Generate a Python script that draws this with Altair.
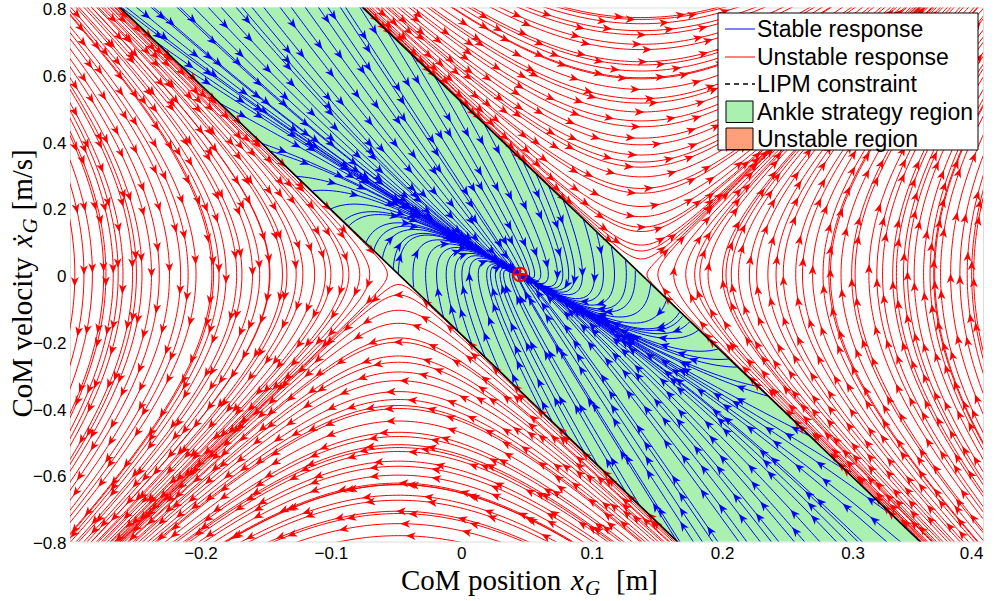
import math
import numpy as np
import pandas as pd
import altair as alt

# ---------------- values ----------------
X_DOMAIN = [-0.3, 0.4]
V_DOMAIN = [-0.8, 0.8]
X_TICKS = [-0.2, -0.1, 0.0, 0.1, 0.2, 0.3, 0.4]
V_TICKS = [-0.8, -0.6, -0.4, -0.2, 0.0, 0.2, 0.4, 0.6, 0.8]

OMEGA = 3.745      # LIPM natural frequency sqrt(g/z)  (slope of the constraint lines)
COP_MIN = -0.048   # left LIPM constraint crosses xdot = 0 here
COP_MAX = 0.138    # right LIPM constraint crosses xdot = 0 here
X_EQ = 0.045       # equilibrium (red marker)
K_POS = 13.8       # ankle feedback gains (stable region)
K_VEL = 8.3

# seed grid for the stream slice
SEED_X = [round(-0.297 + 0.01 * i, 4) for i in range(70)]
SEED_V = [round(-0.79 + 0.04 * j, 3) for j in range(40)]

GREEN = "#A9F0B1"
SALMON = "#FFA07A"

# ---------------- plot geometry ----------------
W, H = 913, 534
SX = W / (X_DOMAIN[1] - X_DOMAIN[0])
SV = H / (V_DOMAIN[1] - V_DOMAIN[0])
STEP = 2.0
CELL = 9.5
NX, NY = int(W / CELL) + 1, int(H / CELL) + 1


def region(x, v):
    xi = x + v / OMEGA
    if xi < COP_MIN:
        return 0
    if xi > COP_MAX:
        return 2
    return 1


def accel(x, v, r):
    if r == 0:
        return OMEGA ** 2 * (x - COP_MIN)
    if r == 2:
        return OMEGA ** 2 * (x - COP_MAX)
    return -K_POS * (x - X_EQ) - K_VEL * v


def pdir(x, v, r):
    dx = v * SX
    dy = accel(x, v, r) * SV
    n = math.hypot(dx, dy)
    if n < 1e-7:
        return None
    return dx / n, dy / n


def inside(x, v, m=2.0):
    px = (x - X_DOMAIN[0]) * SX
    py = (v - V_DOMAIN[0]) * SV
    return -m <= px <= W + m and -m <= py <= H + m


def integrate(x, v, r, sign):
    pts = []
    prev = None
    for _ in range(1500):
        d1 = pdir(x, v, r)
        if d1 is None:
            break
        xm = x + 0.5 * STEP * sign * d1[0] / SX
        vm = v + 0.5 * STEP * sign * d1[1] / SV
        d2 = pdir(xm, vm, r)
        if d2 is None:
            break
        ux, uy = sign * d2[0], sign * d2[1]
        if prev is not None and ux * prev[0] + uy * prev[1] < 0.3:
            break
        x += STEP * ux / SX
        v += STEP * uy / SV
        prev = (ux, uy)
        if region(x, v) != r:
            break
        pts.append((x, v))
        if not inside(x, v):
            break
        if r == 1 and math.hypot((x - X_EQ) * SX, v * SV) < 2.5:
            pts.append((X_EQ, 0.0))
            break
    return pts


occ = np.zeros((NX, NY), dtype=bool)


def cell(x, v):
    return int((x - X_DOMAIN[0]) * SX / CELL), int((v - V_DOMAIN[0]) * SV / CELL)


seeds = []
for parity in [(0, 0), (1, 1), (0, 1), (1, 0)]:
    for i, sx in enumerate(SEED_X):
        for j, sv in enumerate(SEED_V):
            if (i % 2, j % 2) == parity:
                seeds.append((sx, sv))

line_rows = []
arrow_rows = []
lid = 0
A0, ASP = 14.0, 62.0
for sx, sv in seeds:
    ci, cj = cell(sx, sv)
    if 0 <= ci < NX and 0 <= cj < NY and occ[ci, cj]:
        continue
    r = region(sx, sv)
    back = integrate(sx, sv, r, -1)
    fwd = integrate(sx, sv, r, 1)
    pts = back[::-1] + [(sx, sv)] + fwd
    if len(pts) < 6:
        continue
    for (x, v) in pts:
        a, b = cell(x, v)
        if 0 <= a < NX and 0 <= b < NY:
            occ[a, b] = True
    col = "s" if r == 1 else "u"
    keep = list(range(0, len(pts), 2))
    if keep[-1] != len(pts) - 1:
        keep.append(len(pts) - 1)
    for k, idx in enumerate(keep):
        x, v = pts[idx]
        line_rows.append({"x": round(x, 5), "v": round(v, 5), "id": lid, "k": k, "c": col})
    # arrowheads along the line, phase staggered from line to line
    s = 0.0
    target = A0 + ((lid * 0.6180339) % 1.0) * ASP
    for i in range(len(pts) - 1):
        dpx = (pts[i + 1][0] - pts[i][0]) * SX
        dpy = (pts[i + 1][1] - pts[i][1]) * SV
        seg = math.hypot(dpx, dpy)
        s += seg
        if s >= target and seg > 0:
            if inside(pts[i][0], pts[i][1], -3.0):
                ang = math.degrees(math.atan2(dpx, dpy)) % 360.0
                arrow_rows.append({"x": round(pts[i][0], 5), "v": round(pts[i][1], 5), "ang": round(ang, 1), "c": col})
            target += ASP
    lid += 1

lines = pd.DataFrame(line_rows)
arrows = pd.DataFrame(arrow_rows)

band = pd.DataFrame({"v": [-0.9, 0.9]})
band["xl"] = COP_MIN - band["v"] / OMEGA
band["xr"] = COP_MAX - band["v"] / OMEGA
bounds = pd.DataFrame({
    "v": [-0.9, 0.9, -0.9, 0.9],
    "x": [COP_MIN + 0.9 / OMEGA, COP_MIN - 0.9 / OMEGA, COP_MAX + 0.9 / OMEGA, COP_MAX - 0.9 / OMEGA],
    "b": ["l", "l", "r", "r"],
})
eq = pd.DataFrame({"x": [X_EQ], "v": [0.0]})
one = pd.DataFrame({"a": [0]})

xs = alt.Scale(domain=X_DOMAIN, nice=False, zero=False)
ys = alt.Scale(domain=V_DOMAIN, nice=False, zero=False)
lab = "datum.value == 0 ? '0' : format(datum.value, '.1f')"
xax = alt.Axis(values=X_TICKS, labelExpr=lab, title=None, ticks=False, domain=False, grid=False,
               labelFont="Liberation Sans", labelFontSize=17, labelColor="black", labelPadding=4)
yax = alt.Axis(values=V_TICKS, labelExpr=lab, title=None, ticks=False, domain=False, grid=False,
               labelFont="Liberation Sans", labelFontSize=17, labelColor="black", labelPadding=4,
               labelOffset=2)

col_scale = alt.Scale(domain=["s", "u"], range=["#0000FF", "#FF0000"])

band_layer = alt.Chart(band).mark_area(orient="horizontal", color=GREEN, clip=True).encode(
    y=alt.Y("v:Q", scale=ys, axis=yax), x=alt.X("xl:Q", scale=xs, axis=xax), x2="xr:Q")

line_layer = alt.Chart(lines).mark_line(strokeWidth=1, clip=True).encode(
    x=alt.X("x:Q", scale=xs), y=alt.Y("v:Q", scale=ys), detail="id:N", order="k:Q",
    color=alt.Color("c:N", scale=col_scale, legend=None))

ARROW = "M0,-1L0.8,1L0,0.45L-0.8,1Z"
arrow_layer = alt.Chart(arrows).mark_point(shape=ARROW, filled=True, size=95, opacity=1, strokeWidth=0, clip=True).encode(
    x=alt.X("x:Q", scale=xs), y=alt.Y("v:Q", scale=ys), angle=alt.Angle("ang:Q", scale=None),
    color=alt.Color("c:N", scale=col_scale, legend=None))

bound_layer = alt.Chart(bounds).mark_line(color="black", strokeWidth=1.6, clip=True).encode(
    x=alt.X("x:Q", scale=xs), y=alt.Y("v:Q", scale=ys), detail="b:N")

eq_circle = alt.Chart(eq).mark_point(shape="circle", size=180, filled=False, color="#FF0000", strokeWidth=2, opacity=1).encode(
    x=alt.X("x:Q", scale=xs), y=alt.Y("v:Q", scale=ys))
eq_plus = alt.Chart(eq).mark_point(shape="M-1,0L1,0M0,-1L0,1", size=180, filled=False, color="#FF0000", strokeWidth=2, opacity=1).encode(
    x=alt.X("x:Q", scale=xs), y=alt.Y("v:Q", scale=ys))

# ---------------- legend (drawn by hand, pixel positions relative to plot origin) ----------------
LEG = alt.Chart(one)
leg_box = LEG.mark_rect(fill="white", stroke="black", strokeWidth=1).encode(
    x=alt.value(648), x2=alt.value(908), y=alt.value(5.5), y2=alt.value(142.5))
leg_items = []
rows_y = [21.5, 49.5, 76.5, 104.5, 131]
leg_items.append(LEG.mark_rule(color="#0000FF", strokeWidth=1).encode(
    x=alt.value(655), x2=alt.value(685), y=alt.value(rows_y[0])))
leg_items.append(LEG.mark_rule(color="#FF0000", strokeWidth=1).encode(
    x=alt.value(655), x2=alt.value(685), y=alt.value(rows_y[1])))
leg_items.append(LEG.mark_rule(color="black", strokeWidth=1.3, strokeDash=[5, 4]).encode(
    x=alt.value(655), x2=alt.value(685), y=alt.value(rows_y[2])))
leg_items.append(LEG.mark_rect(fill=GREEN, stroke="black", strokeWidth=1).encode(
    x=alt.value(656), x2=alt.value(683), y=alt.value(93.5), y2=alt.value(115)))
leg_items.append(LEG.mark_rect(fill=SALMON, stroke="black", strokeWidth=1).encode(
    x=alt.value(656), x2=alt.value(683), y=alt.value(120.5), y2=alt.value(142)))
leg_labels = ["Stable response", "Unstable response", "LIPM constraint", "Ankle strategy region", "Unstable region"]
for ty, tt in zip(rows_y, leg_labels):
    leg_items.append(LEG.mark_text(text=tt, align="left", baseline="middle", font="Liberation Sans",
                                   fontSize=23, color="black").encode(x=alt.value(687), y=alt.value(ty + 1)))

# ---------------- axis titles (serif, with italic subscripted symbol) ----------------
TF = "Liberation Serif"
TS = 29
titles = []
# x title
titles.append(LEG.mark_text(text="CoM position", align="left", baseline="alphabetic", font=TF, fontSize=TS,
                            color="black").encode(x=alt.value(331), y=alt.value(582)))
titles.append(LEG.mark_text(text="x", align="left", baseline="alphabetic", font=TF, fontSize=TS, fontStyle="italic",
                            color="black").encode(x=alt.value(501), y=alt.value(582)))
titles.append(LEG.mark_text(text="G", align="left", baseline="alphabetic", font=TF, fontSize=21, fontStyle="italic",
                            color="black").encode(x=alt.value(515), y=alt.value(587)))
titles.append(LEG.mark_text(text="[m]", align="left", baseline="alphabetic", font=TF, fontSize=TS,
                            color="black").encode(x=alt.value(546), y=alt.value(582)))
# y title (rotated, reads bottom to top)
titles.append(LEG.mark_text(text="CoM velocity", align="left", baseline="alphabetic", font=TF, fontSize=TS, angle=270,
                            color="black").encode(x=alt.value(-38), y=alt.value(410)))
titles.append(LEG.mark_text(text="ẋ", align="left", baseline="alphabetic", font=TF, fontSize=TS, angle=270,
                            fontStyle="italic", color="black").encode(x=alt.value(-38), y=alt.value(240)))
titles.append(LEG.mark_text(text="G", align="left", baseline="alphabetic", font=TF, fontSize=21, angle=270,
                            fontStyle="italic", color="black").encode(x=alt.value(-33), y=alt.value(226)))
titles.append(LEG.mark_text(text="[m/s]", align="left", baseline="alphabetic", font=TF, fontSize=TS, angle=270,
                            color="black").encode(x=alt.value(-38), y=alt.value(203)))

chart = alt.layer(
    band_layer, line_layer, arrow_layer, bound_layer, eq_circle, eq_plus,
    leg_box, *leg_items, *titles
).properties(
    width=W, height=H,
    autosize=alt.AutoSizeParams(type="none"),
    padding={"left": 70, "top": 7.5, "right": 11, "bottom": 59.5},
).configure_view(fill=SALMON, stroke=None).configure(background="white")

chart.save("out.html", embed_options={"renderer": "svg", "actions": False})
